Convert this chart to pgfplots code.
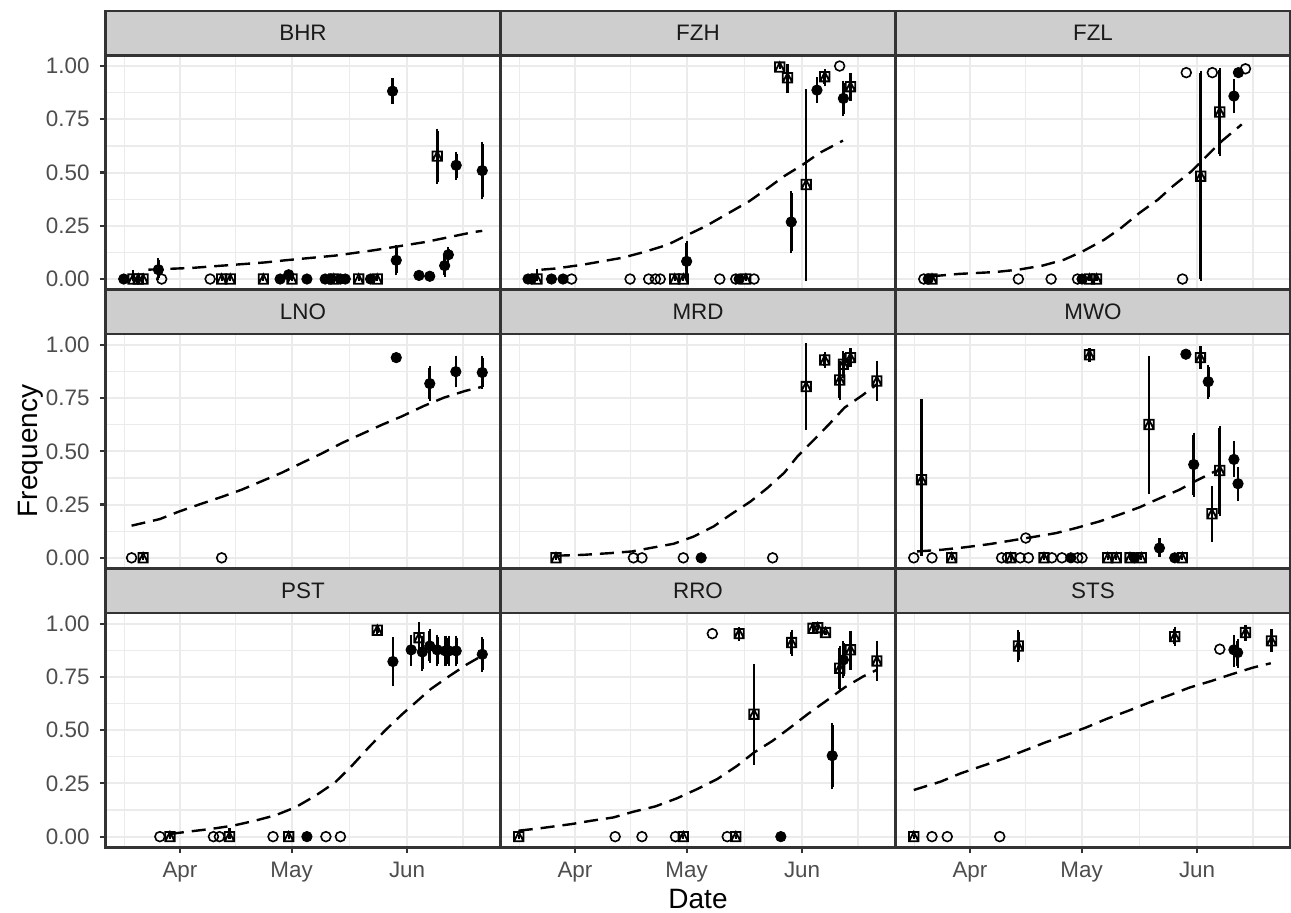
\documentclass[border=0pt]{standalone}
\usepackage{fontspec}
\setmainfont{Liberation Sans}
\usepackage{pgfplots}
\pgfplotsset{compat=1.18}
\definecolor{grey92}{HTML}{EBEBEB}
\definecolor{grey80}{HTML}{CECECE}
\definecolor{grey20}{HTML}{333333}
\definecolor{grey30}{HTML}{4D4D4D}
\definecolor{grey10}{HTML}{1A1A1A}
\pgfdeclareplotmark{sqtri}{%
  \pgfpathrectangle{\pgfpoint{-\pgfplotmarksize}{-\pgfplotmarksize}}{\pgfpoint{2\pgfplotmarksize}{2\pgfplotmarksize}}%
  \pgfpathmoveto{\pgfpoint{-\pgfplotmarksize}{-\pgfplotmarksize}}%
  \pgfpathlineto{\pgfpoint{0pt}{\pgfplotmarksize}}%
  \pgfpathlineto{\pgfpoint{\pgfplotmarksize}{-\pgfplotmarksize}}%
  \pgfusepathqstroke}
\pgfplotsset{
  /pgfplots/table/ebt/.style={x=x,y=y,y error plus expr={\thisrow{h}-\thisrow{y}},y error minus expr={\thisrow{y}-\thisrow{l}}},
  facet/.style={scale only axis, width=197.5pt, height=117.15pt, anchor=south west,
    xmin=11, xmax=117.1, ymin=-0.05, ymax=1.05,
    xtick={31,61,92}, xticklabels={}, ytick={0,0.25,0.5,0.75,1}, yticklabels={},
    minor xtick={16,46,76.5,107}, minor ytick={0.125,0.375,0.625,0.875},
    grid=both, major grid style={draw=grey92, line width=1pt},
    minor grid style={draw=grey92, line width=0.6pt},
    axis line style={draw=grey20, line width=1.3pt},
    tick align=outside, tick pos=left, major tick length=3pt, minor tick length=0pt,
    xtick style={draw=none}, ytick style={draw=none},
    ticklabel style={font=\fontsize{11.2}{13}\selectfont, text=grey30},
    yticklabel style={inner sep=0pt, anchor=east, xshift=-4.8pt},
    xticklabel style={inner sep=0pt, anchor=north, yshift=-4.3pt}},
  ylab/.style={yticklabels={0.00,0.25,0.50,0.75,1.00}, ytick style={draw=grey20, line width=1.1pt}},
  xlab/.style={xticklabels={Apr,May,Jun}, xtick style={draw=grey20, line width=1.1pt}},
  opn/.style={only marks, mark=o, mark size=2.45pt, mark options={draw=black, line width=0.8pt}},
  fil/.style={only marks, mark=*, mark size=2.6pt, black, error bars/.cd, y dir=both, y explicit,
    error bar style={line width=1.3pt, black}, error mark options={black, line width=1.1pt, mark size=1pt}},
  box/.style={only marks, mark=sqtri, mark size=2.35pt, black, mark options={draw=black, line width=0.9pt},
    error bars/.cd, y dir=both, y explicit,
    error bar style={line width=1.3pt, black}, error mark options={black, line width=1.1pt, mark size=1pt}},
  fit/.style={black, line width=1.2pt, dash pattern=on 7pt off 4pt, no marks},
}
\newcommand{\strip}[3]{%
  \draw[fill=grey80, draw=grey20, line width=1.3pt] (#1,#2) rectangle ++(197.5pt,22.25pt);
  \node[font=\fontsize{11.2}{13}\selectfont, text=grey10] at ({#1+98.75pt},{#2+11.125pt}) {#3};}
\begin{document}
\begin{tikzpicture}
\useasboundingbox (0,0) rectangle (645.5pt,456.5pt);
% ---------------- BHR
\begin{axis}[facet, ylab, at={(52.75pt,311.65pt)}]
\addplot[fit] table {
x y
22.5 0.044
34.1 0.052
53.9 0.078
59.3 0.088
72.7 0.110
83.05 0.135
88.4 0.150
97 0.174
110 0.221
112.2 0.226
};
\addplot[opn] table {
x y
26.1 0
39.1 0
};
\addplot[fil] table[ebt] {
x y l h
15.9 0 0 0
25.2 0.044 0.005 0.088
57.9 0 0 0
60.2 0.02 0.005 0.035
65.1 0 0 0
70.0 0 0 0
71.5 0 0 0
74.1 0 0 0
75.4 0 0 0
82.2 0 0 0
88.1 0.882 0.831 0.934
89.1 0.088 0.028 0.15
95.2 0.017 0.017 0.017
98.1 0.013 0.013 0.013
102.1 0.063 0.02 0.107
103.1 0.114 0.091 0.141
105.2 0.534 0.475 0.589
112.2 0.509 0.384 0.636
};
\addplot[box] table[ebt] {
x y l h
18.4 0 0 0.035
19.8 0 0 0
21.1 0 0 0
42.2 0 0 0
44.5 0 0 0
53.4 0 0 0
61.1 0 0 0
72.3 0 0 0
79.0 0 0 0
84.0 0 0 0
100.1 0.577 0.455 0.697
};
\end{axis}
% ---------------- FZH
\begin{axis}[facet, at={(250.25pt,311.65pt)}]
\addplot[fit] table {
x y
22 0.044
25.6 0.049
33 0.067
43.8 0.100
49.6 0.127
55.9 0.161
60.4 0.200
66.1 0.248
71.5 0.302
77.8 0.365
82.9 0.428
87.2 0.483
92.2 0.537
96.7 0.592
103 0.650
};
\addplot[opn] table {
x y
30.1 0
45.8 0
50.8 0
52.6 0
53.9 0
69.9 0
74.2 0
79.1 0
102.1 1.0
};
\addplot[fil] table[ebt] {
x y l h
18.4 0 0 0
19.3 0 0 0
24.7 0 0 0
27.8 0 0 0
61 0.083 0 0.169
75.1 0 0 0
89.1 0.268 0.13 0.404
96 0.887 0.835 0.937
103.1 0.848 0.777 0.922
};
\addplot[box] table[ebt] {
x y l h
20.8 0 0 0.04
57.8 0 0 0
60.1 0 0 0
76.9 0 0 0
86 0.995 0.995 0.995
88.1 0.945 0.882 1.0
93.1 0.444 0 0.882
98.1 0.95 0.914 0.976
105 0.903 0.846 0.958
};
\end{axis}
% ---------------- FZL
\begin{axis}[facet, at={(447.75pt,311.65pt)}]
\addplot[fit] table {
x y
20.8 0.013
28 0.024
37.9 0.033
44 0.044
50.5 0.063
56.3 0.091
61.3 0.130
67.1 0.185
71.6 0.240
76.5 0.310
81.5 0.373
85.5 0.436
90.5 0.506
94.1 0.569
98.6 0.647
104 0.726
};
\addplot[opn] table {
x y
18.6 0
44 0
52.8 0
59.9 0
88.1 0
89.1 0.969
96.1 0.969
105 0.987
};
\addplot[fil] table[ebt] {
x y l h
19.8 0 0 0
61.1 0 0 0
101.9 0.859 0.788 0.929
103.1 0.969 0.969 0.969
};
\addplot[box] table[ebt] {
x y l h
20.8 0 0 0.015
63.1 0 0 0
65.0 0 0 0
93.0 0.483 0 0.969
98.1 0.784 0.585 0.981
};
\end{axis}
% ---------------- LNO
\begin{axis}[facet, ylab, at={(52.75pt,172.25pt)}]
\addplot[fit] table {
x y
18 0.151
25.6 0.182
30.7 0.217
36.6 0.253
42.2 0.286
47.6 0.320
53 0.360
58.4 0.400
63.8 0.446
69.1 0.490
74.5 0.539
79.9 0.582
85.3 0.625
90.7 0.665
96.5 0.713
101.9 0.752
107.7 0.784
112.2 0.803
};
\addplot[opn] table {
x y
18 0
42.2 0
};
\addplot[fil] table[ebt] {
x y l h
89.1 0.94 0.94 0.94
98.1 0.818 0.744 0.889
105.1 0.874 0.81 0.94
112.2 0.87 0.804 0.936
};
\addplot[box] table[ebt] {
x y l h
21.1 0 0 0
};
\end{axis}
% ---------------- MRD
\begin{axis}[facet, at={(250.25pt,172.25pt)}]
\addplot[fit] table {
x y
25.9 0.010
33.2 0.014
40.4 0.022
46.3 0.030
51.2 0.046
57.5 0.066
62.9 0.100
68.3 0.148
72.8 0.203
78.2 0.265
82.7 0.328
87.2 0.399
90.8 0.477
95.3 0.556
99.2 0.626
103.4 0.705
108.2 0.763
112.1 0.815
};
\addplot[opn] table {
x y
46.7 0
49 0
60.1 0
84.1 0
};
\addplot[fil] table[ebt] {
x y l h
64.9 0 0 0
};
\addplot[box] table[ebt] {
x y l h
25.9 0 0 0.01
93.1 0.804 0.611 0.998
98.1 0.929 0.9 0.956
102.1 0.835 0.749 0.917
103.1 0.909 0.854 0.964
105 0.94 0.906 0.976
112.1 0.83 0.747 0.917
};
\end{axis}
% ---------------- MWO
\begin{axis}[facet, at={(447.75pt,172.25pt)}]
\addplot[fit] table {
x y
16.8 0.030
23.5 0.038
29.4 0.049
36.1 0.064
42.4 0.082
48.7 0.100
54.1 0.116
59.5 0.140
65.8 0.171
71.2 0.203
76.5 0.237
81.5 0.276
87.3 0.320
91.4 0.359
97.3 0.410
};
\addplot[opn] table {
x y
15.9 0
20.8 0
39.5 0
41.06 0
44.5 0
46.7 0
53 0
55.7 0
59.9 0
61.1 0
46 0.093
};
\addplot[fil] table[ebt] {
x y l h
58.1 0 0 0
75.2 0 0 0
86 0 0 0
81.9 0.046 0.014 0.082
89 0.956 0.956 0.956
91.1 0.438 0.297 0.579
95 0.827 0.757 0.898
101.9 0.462 0.391 0.537
103 0.348 0.276 0.418
};
\addplot[box] table[ebt] {
x y l h
18 0.367 0.02 0.736
26.1 0 0 0
41.96 0 0 0
50.9 0 0 0
63.1 0.953 0.93 0.975
68 0 0 0
70.3 0 0 0
74 0 0 0
77 0 0 0
88.05 0 0 0
79.1 0.626 0.308 0.94
92.9 0.94 0.898 0.983
96 0.207 0.085 0.328
98.1 0.41 0.207 0.611
};
\end{axis}
% ---------------- PST
\begin{axis}[facet, ylab, xlab, at={(52.75pt,32.85pt)}]
\addplot[fit] table {
x y
28.3 0.0125
33 0.023
39.3 0.036
45.4 0.052
51.2 0.075
56.6 0.100
62 0.1375
67.4 0.192
72.7 0.255
77.2 0.333
81.7 0.419
86.2 0.500
90.7 0.575
94.3 0.630
98.3 0.692
103.2 0.752
108.2 0.810
112.2 0.850
};
\addplot[opn] table {
x y
25.6 0
40 0
41.6 0
56 0
70.2 0
74.1 0
};
\addplot[fil] table[ebt] {
x y l h
65.1 0 0 0
88.2 0.822 0.716 0.927
93.1 0.877 0.81 0.939
96.1 0.867 0.789 0.934
98.1 0.895 0.825 0.966
100.1 0.877 0.81 0.939
102.3 0.872 0.81 0.934
103.2 0.872 0.81 0.934
105.2 0.872 0.81 0.934
112.2 0.856 0.783 0.927
};
\addplot[box] table[ebt] {
x y l h
28.3 0 0 0.01
44.3 0 0 0.03
60.2 0 0 0
84 0.969 0.955 0.98
95.2 0.934 0.88 0.997
};
\end{axis}
% ---------------- RRO
\begin{axis}[facet, xlab, at={(250.25pt,32.85pt)}]
\addplot[fit] table {
x y
15.9 0.028
21.5 0.039
30.1 0.059
35.5 0.075
41.3 0.090
46.7 0.117
52.6 0.142
58.4 0.180
63.8 0.223
69.2 0.270
74.6 0.333
79.1 0.395
84.1 0.450
88.6 0.509
93.5 0.575
98.5 0.6375
103.4 0.700
108.4 0.752
112.1 0.783
};
\addplot[opn] table {
x y
41.8 0
49 0
58 0
71.9 0
67.9 0.953
};
\addplot[fil] table[ebt] {
x y l h
86.3 0 0 0
100.1 0.38 0.231 0.525
103.1 0.83 0.752 0.908
};
\addplot[box] table[ebt] {
x y l h
15.9 0 0 0
60.1 0 0 0
74.2 0 0 0
75.1 0.953 0.93 0.975
79.1 0.575 0.348 0.802
89.2 0.911 0.859 0.963
94.9 0.978 0.978 0.978
96.2 0.981 0.981 0.981
98.3 0.958 0.958 0.958
102.1 0.791 0.695 0.8875
105 0.877 0.794 0.958
112.1 0.825 0.742 0.911
};
\end{axis}
% ---------------- STS
\begin{axis}[facet, xlab, at={(447.75pt,32.85pt)}]
\addplot[fit] table {
x y
15.9 0.219
23.1 0.258
28.5 0.297
34.5 0.333
40.2 0.367
45.5 0.403
51.2 0.442
56.8 0.477
62.2 0.5125
67.6 0.552
73.4 0.590
79.2 0.630
84.6 0.664
90 0.700
95.9 0.731
101.3 0.7625
107.1 0.794
111.8 0.814
};
\addplot[opn] table {
x y
20.8 0
24.9 0
39 0
98.1 0.88
};
\addplot[fil] table[ebt] {
x y l h
101.9 0.877 0.806 0.939
102.9 0.864 0.8 0.919
};
\addplot[box] table[ebt] {
x y l h
15.9 0 0 0
44 0.895 0.828 0.961
86 0.939 0.903 0.977
105 0.958 0.93 0.985
112 0.919 0.877 0.966
};
\end{axis}
% ---------------- strips
\strip{52.75pt}{428.8pt}{BHR}
\strip{250.25pt}{428.8pt}{FZH}
\strip{447.75pt}{428.8pt}{FZL}
\strip{52.75pt}{289.4pt}{LNO}
\strip{250.25pt}{289.4pt}{MRD}
\strip{447.75pt}{289.4pt}{MWO}
\strip{52.75pt}{150pt}{PST}
\strip{250.25pt}{150pt}{RRO}
\strip{447.75pt}{150pt}{STS}
\node[rotate=90, font=\fontsize{14}{16}\selectfont] at (15.5pt,231pt) {Frequency};
\node[font=\fontsize{14}{16}\selectfont] at (349pt,6.8pt) {Date};
\end{tikzpicture}
\end{document}
